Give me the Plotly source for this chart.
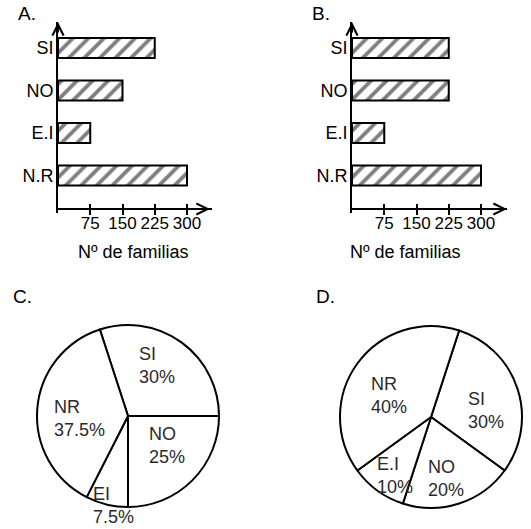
import plotly.graph_objects as go

W, H = 531, 529

# ---- data ----
bar_categories = ["SI", "NO", "E.I", "N.R"]
bar_values_A = [225, 150, 75, 300]
bar_values_B = [225, 225, 75, 300]
x_tickvals = [75, 150, 225, 300]
x_ticktext = ["75", "150", "225", "300"]
x_title = "Nº de familias"

pie_labels_C = ["SI", "NO", "EI", "NR"]
pie_values_C = [30, 25, 7.5, 37.5]
pie_labels_D = ["SI", "NO", "E.I", "NR"]
pie_values_D = [30, 20, 10, 40]

panel_letters = ["A.", "B.", "C.", "D."]

FONT = "Liberation Sans, Arial, sans-serif"

def px(x):
    return x / W

def py(y):
    return 1 - y / H

fig = go.Figure()

bar_style = dict(
    orientation="h",
    width=0.47,
    marker=dict(color="white", line=dict(color="black", width=2),
                pattern=dict(shape="/", fgcolor="black", bgcolor="white", size=11, solidity=0.35)),
    hoverinfo="skip",
)
fig.add_trace(go.Bar(y=bar_categories, x=bar_values_A, xaxis="x", yaxis="y", **bar_style))
fig.add_trace(go.Bar(y=bar_categories, x=bar_values_B, xaxis="x2", yaxis="y2", **bar_style))
# helper (empty) traces so the inside-tick overlay axes are rendered
fig.add_trace(go.Scatter(x=[], y=[], xaxis="x3", yaxis="y", hoverinfo="skip"))
fig.add_trace(go.Scatter(x=[], y=[], xaxis="x4", yaxis="y2", hoverinfo="skip"))

def pie(labels, values, dom_x, dom_y, rot):
    return go.Pie(labels=labels, values=values, sort=False, direction="clockwise",
                  rotation=rot, textinfo="none", hoverinfo="skip",
                  marker=dict(colors=["white"] * len(values), line=dict(color="black", width=2)),
                  domain=dict(x=dom_x, y=dom_y))

fig.add_trace(pie(pie_labels_C, pie_values_C, [px(37), px(219)], [py(507), py(325)], -18))
fig.add_trace(pie(pie_labels_D, pie_values_D, [px(340), px(522)], [py(508), py(326)], 18))

cat_order = list(reversed(bar_categories))
y_common = dict(type="category", categoryorder="array", categoryarray=cat_order,
                range=[-0.882, 3.612], domain=[py(213), py(22)],
                showline=True, linecolor="black", linewidth=2, ticks="",
                ticklabelstandoff=-1,
                showgrid=False, zeroline=False, fixedrange=True,
                tickfont=dict(family=FONT, size=18, color="black"))

def x_common(dom, rng, pos):
    return dict(domain=dom, range=rng, anchor="free", position=pos,
                showline=True, linecolor="black", linewidth=2,
                tickmode="array", tickvals=x_tickvals, ticktext=x_ticktext,
                ticks="outside", ticklen=5, tickwidth=2, tickcolor="black",
                ticklabelstandoff=-6,
                showgrid=False, zeroline=False, fixedrange=True,
                tickfont=dict(family=FONT, size=17, color="black"))

def x_inside(dom, rng, pos, over):
    return dict(domain=dom, range=rng, anchor="free", position=pos, overlaying=over,
                showline=False, tickmode="array", tickvals=x_tickvals,
                ticks="inside", ticklen=5, tickwidth=2, tickcolor="black",
                showticklabels=False, showgrid=False, zeroline=False, fixedrange=True)

domA = [px(58), px(212)]
rngA = [0, 300 * 154 / 129]
domB = [px(352), px(507)]
rngB = [0, 300 * 155 / 129]
xpos = py(209)

fig.update_layout(
    width=W, height=H, margin=dict(l=0, r=0, t=0, b=0),
    paper_bgcolor="white", plot_bgcolor="rgba(0,0,0,0)",
    showlegend=False, bargap=0, hovermode=False,
    font=dict(family=FONT, color="black"),
    xaxis=x_common(domA, rngA, xpos),
    xaxis2=x_common(domB, rngB, xpos),
    xaxis3=x_inside(domA, rngA, xpos, "x"),
    xaxis4=x_inside(domB, rngB, xpos, "x2"),
    yaxis=dict(anchor="x", **y_common),
    yaxis2=dict(anchor="x2", **y_common),
)

ann = []
# arrowheads on axes
for x0, x1 in [(58, 210), (352, 507)]:
    ann.append(dict(xref="paper", yref="paper", x=px(x0), y=py(22), ax=0, ay=12,
                    showarrow=True, arrowhead=5, arrowsize=1.1, arrowwidth=2, arrowcolor="black", text=""))
    ann.append(dict(xref="paper", yref="paper", x=px(x1), y=py(209), ax=-12, ay=0,
                    showarrow=True, arrowhead=5, arrowsize=1.1, arrowwidth=2, arrowcolor="black", text=""))
# axis titles
for cx in [133, 405]:
    ann.append(dict(xref="paper", yref="paper", x=px(cx), y=py(252), text=x_title,
                    showarrow=False, xanchor="center", yanchor="middle",
                    font=dict(family=FONT, size=18, color="black")))
# panel letters
for t, (lx, ly) in zip(panel_letters, [(16, 13), (310, 13), (11, 296), (314, 296)]):
    ann.append(dict(xref="paper", yref="paper", x=px(lx), y=py(ly), text=t,
                    showarrow=False, xanchor="left", yanchor="middle",
                    font=dict(family=FONT, size=19, color="black")))

def fmt(v):
    return (f"{v:g}") + "%"

pos_C = [(137, 366), (147, 446), (91, 505), (52, 418)]
pos_D = [(466, 410), (426, 478), (375, 475), (369, 395)]
for labels, values, poss in [(pie_labels_C, pie_values_C, pos_C), (pie_labels_D, pie_values_D, pos_D)]:
    for lab, val, (lx, ly) in zip(labels, values, poss):
        ann.append(dict(xref="paper", yref="paper", x=px(lx), y=py(ly),
                        text=f"{lab}<br>{fmt(val)}", align="left",
                        showarrow=False, xanchor="left", yanchor="middle",
                        font=dict(family=FONT, size=18, color="#2a2a2a")))

fig.update_layout(annotations=ann)
fig.write_html("out.html", config={"displayModeBar": False, "staticPlot": True},
               post_script="document.body.style.margin='0px';")
